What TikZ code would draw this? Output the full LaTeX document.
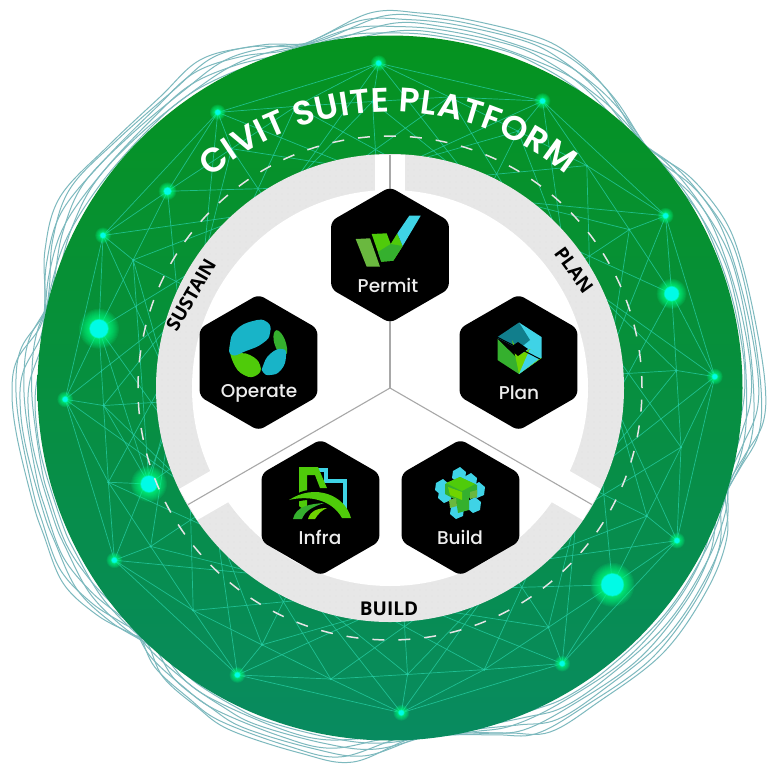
\documentclass[tikz,border=0pt]{standalone}
\usepackage{fontspec}
\setmainfont{Open Sans}
\newfontfamily\medf{Poppins Medium}
\newfontfamily\titlef{Poppins SemiBold}
\usetikzlibrary{shapes.geometric,decorations.text,patterns.meta,calc}
\definecolor{discTop}{HTML}{05931F}
\definecolor{discMid}{HTML}{069438}
\definecolor{discBot}{HTML}{088B60}
\definecolor{meshc}{HTML}{25CCA2}
\definecolor{blobc}{HTML}{7DB9BE}
\definecolor{ringg}{HTML}{E7E7E7}
\definecolor{sepg}{HTML}{A8A8A8}
\definecolor{glowg}{HTML}{00FF80}
\definecolor{corec}{HTML}{00FBE6}
\definecolor{icyan}{HTML}{3FD3E6}
\definecolor{idcyan}{HTML}{18B4C8}
\definecolor{igreen}{HTML}{4FCB0A}
\definecolor{ilime}{HTML}{6FD400}
\definecolor{imid}{HTML}{35B02E}
\definecolor{ipale}{HTML}{6AB83F}
\tikzset{
  mesh/.style={draw=meshc,line width=.7pt,opacity=.8},
  blobline/.style={draw=blobc,line width=1pt},
  hexa/.style={regular polygon,regular polygon sides=6,shape border rotate=30,minimum size=136pt,inner sep=0pt,fill=black,rounded corners=6pt},
  hexlabel/.style={text=white!93!black,font=\fontsize{18.5}{20}\selectfont\medf,inner sep=0pt},
  ringlabel/.style={text=black,font=\fontsize{19}{20}\selectfont\bfseries,inner sep=0pt},
  sepline/.style={draw=sepg,line width=1.1pt},
}
\newcommand{\glowat}[3]{% name, core radius, glow radius
  \foreach \gi in {1,...,16}{
    \pgfmathsetmacro\gfrac{(\gi/16)^1.6}
    \fill[glowg,opacity=.11] (#1) circle[radius={#2pt+(#3pt-#2pt)*\gfrac}];
  }
  \fill[corec,opacity=.5] (#1) circle[radius=#2pt+.8pt];
  \fill[corec] (#1) circle[radius=#2pt];
}
\begin{document}
\begin{tikzpicture}[x=1pt,y=-1pt]
\useasboundingbox (0,0) rectangle (769,764);
\fill[white] (0,0) rectangle (769,764);
\coordinate (c) at (390,388);
% wavy outlines: one lobed outline, its lobes shrunk towards the disc and turned a little
\foreach \amp/\rr in {1/0,.87/2,.74/-1.8,.61/3.6,.48/-3.4,.35/5,.25/-4.8}{
  \gdef\blobpts{}
  \foreach \px/\py in {
   -87/-344,-20/-375,30/-375,80/-368,150/-350,187/-328,217/-298,245/-255,
   263/-236,300/-211,333/-171,350/-131,365/-68,375/-5,373/35,355/67,340/92,
   335/105,337/149,317/202,273/265,207/315,160/344,120/345,77/345,23/350,
   -37/374,-90/365,-160/342,-193/319,-227/289,-243/255,-260/245,-293/227,
   -327/195,-347/145,-357/115,-373/49,-378/5,-373/-28,-350/-61,-345/-88,
   -345/-138,-330/-191,-283/-241,-230/-291,-190/-328,-140/-341}{
    \pgfmathsetmacro\lenp{veclen(\px,\py)}
    \pgfmathsetmacro\fac{(348+(\lenp-348)*\amp)/\lenp}
    \pgfmathsetmacro\qx{390+\fac*(\px*cos(\rr)-\py*sin(\rr))}
    \pgfmathsetmacro\qy{388+\fac*(\px*sin(\rr)+\py*cos(\rr))}
    \xdef\blobpts{\blobpts(\qx,\qy)}
  }
  \edef\blobdraw{\noexpand\draw[blobline] plot[smooth cycle,tension=.6] coordinates {\blobpts};}
  \blobdraw
}
% disc
\shade[top color=discTop,middle color=discMid,bottom color=discBot] (c) circle[radius=352.5pt];
% mesh coordinates
\foreach \k in {0,...,11}{
  \coordinate (o\k) at ({390+325*cos(92-30*\k)},{388-325*sin(92-30*\k)});
}
\foreach \j in {0,2,...,22}{
  \coordinate (m\j) at ({390+287*cos(3.5-15*\j)},{388-287*sin(3.5-15*\j)});
}
\foreach \j in {1,3,...,23}{
  \coordinate (m\j) at ({390+297*cos(3.5-15*\j)},{388-297*sin(3.5-15*\j)});
}
\foreach \j in {0,...,23}{
  \coordinate (i\j) at ({390+212*cos(3.5-15*\j)},{388-212*sin(3.5-15*\j)});
}
\coordinate (extra) at (149,484);
% mesh edges
\foreach \k in {0,...,11}{
  \pgfmathtruncatemacro\nx{mod(\k+1,12)}
  \pgfmathtruncatemacro\jj{mod(2*\k+18,24)}
  \pgfmathtruncatemacro\jp{mod(\jj+1,24)}
  \pgfmathtruncatemacro\jm{mod(\jj+23,24)}
  \pgfmathtruncatemacro\lp{mod(\jj+2,24)}
  \pgfmathtruncatemacro\lm{mod(\jj+22,24)}
  \draw[mesh] (o\k) -- (o\nx);
  \draw[mesh] (o\k) -- (m\jj);
  \draw[mesh] (o\k) -- (m\jp);
  \draw[mesh] (o\k) -- (m\jm);
  \draw[mesh] (o\k) -- (i\lp);
  \draw[mesh] (o\k) -- (i\lm);
}
\foreach \j in {0,2,...,22}{
  \pgfmathtruncatemacro\a{mod(\j+1,24)}
  \pgfmathtruncatemacro\b{mod(\j+23,24)}
  \pgfmathtruncatemacro\d{mod(\j+3,24)}
  \pgfmathtruncatemacro\e{mod(\j+21,24)}
  \draw[mesh] (m\j) -- (m\a);
  \draw[mesh] (m\j) -- (m\b);
  \draw[mesh] (m\j) -- (i\j);
  \draw[mesh] (m\j) -- (i\d);
  \draw[mesh] (m\j) -- (i\e);
}
\foreach \j in {1,3,...,23}{
  \pgfmathtruncatemacro\d{mod(\j+2,24)}
  \pgfmathtruncatemacro\e{mod(\j+22,24)}
  \draw[mesh] (m\j) -- (i\d);
  \draw[mesh] (m\j) -- (i\e);
}
\draw[mesh] (extra) -- (m13) (extra) -- (m12) (extra) -- (m11) (extra) -- (m14) (extra) -- (i11) (extra) -- (i14);
% mid dots
\foreach \j in {0,...,23}{ \fill[meshc] (m\j) circle[radius=1.2pt]; }
% glows
\foreach \k in {0,...,11}{ \glowat{o\k}{2.5}{8} }
\glowat{m23}{7}{15}
\glowat{m3}{11}{22}
\glowat{m13}{9}{20}
\glowat{m15}{3.5}{9}
\glowat{extra}{8}{18}
% inner disc
\fill[ringg] (c) circle[radius=234pt];
\fill[pattern={Dots[distance=6pt,radius=.45pt]},pattern color=black!16] (c) circle[radius=234pt];
\fill[white] (c) circle[radius=198pt];
% separators
\coordinate (sepT) at (390,155);
\coordinate (sepR) at ({390+233*cos(30)},{388+233*sin(30)});
\coordinate (sepL) at ({390-233*cos(30)},{388+233*sin(30)});
\draw[white,line width=30pt] (c) -- (sepT);
\draw[white,line width=36pt] (c) -- (sepR);
\draw[white,line width=36pt] (c) -- (sepL);
\draw[sepline] (c) -- (sepT);
\draw[sepline] (c) -- (sepR);
\draw[sepline] (c) -- (sepL);
% dashed circle
\draw[white!90!black,line width=1.5pt,dash pattern=on 12pt off 14pt] (c) circle[radius=252pt];
% title
\path[decorate,decoration={text along path,text align=fit to path,
   text={|\fontsize{34}{34}\selectfont\titlef\color{white}|CIVIT SUITE PLATFORM}}]
   ({390+279*cos(130)},{391-279*sin(130)}) arc[start angle=130,end angle=51,radius=279pt];
% ring labels
\node[ringlabel,rotate=60] (lsustain) at (191,295) {SUSTAIN};
\node[ringlabel,rotate=-54] (lplan) at (574,270) {PLAN};
\node[ringlabel] (lbuild) at (389,609) {BUILD};
% hexagons
\node[hexa] (hpermit) at (390,255) {};
\node[hexa] (hoperate) at (258.5,362.5) {};
\node[hexa] (hplan) at (518.5,362.5) {};
\node[hexa] (hinfra) at (320.5,507.5) {};
\node[hexa] (hbuild) at (460.5,507.5) {};
\node[hexlabel] (tpermit) at (388,285) {Permit};
\node[hexlabel] (toperate) at (259,393) {Operate};
\node[hexlabel] (tplan) at (519,393) {Plan};
\node[hexlabel] (tinfra) at (320,537) {Infra};
\node[hexlabel] (tbuild) at (460,537) {Build};
% Permit icon
\fill[ipale] (355.7,239)--(370,238.3)--(380,266.7)--(366.7,266.7)--cycle;
\fill[igreen] (371.7,234)--(386.7,233.3)--(390.7,244)--(397.3,233.3)--(402.7,246)--(393.3,260.7)--(381.3,261.7)--cycle;
\fill[imid] (381.3,261.7)--(378,252)--(390.7,244)--(402.7,246)--(393.3,260.7)--cycle;
\fill[icyan] (397.3,233.3)--(409.3,215.7)--(420.7,215.7)--(402.7,246)--cycle;
% Operate icon
\fill[igreen] plot[smooth cycle,tension=.9] coordinates {(230,345)(236,352)(250,355)(260,365)(257,375)(244,375)(233,362)};
\fill[idcyan] plot[smooth cycle,tension=.9] coordinates {(230,344)(236,330)(253,321)(267,322)(270,333)(263,343)(246,351)(232,355)};
\fill[imid] plot[smooth cycle,tension=.9] coordinates {(274,333)(281,333)(287,348)(284,355)(276,348)};
\fill[idcyan] plot[smooth cycle,tension=.9] coordinates {(263,366)(270,354)(282,349)(286,356)(281,370)(270,375)(263,372)};
% Plan icon
\fill[icyan] (519,322.5)--(541.5,337)--(541.5,358)--(519,374)--(519,340)--cycle;
\fill[idcyan!70!black] (519,322.5)--(497.5,337)--(497.5,338)--(519,349)--(530,340)--cycle;
\fill[imid] (497.5,339)--(497.5,360)--(519,374)--(519,360)--cycle;
\fill[ilime] (512,340)--(519,374)--(541.5,358)--(530,349)--(519,355)--cycle;
\fill[icyan] (530,349)--(541.5,357)--(519,374)--(525,360)--cycle;
\fill[black] (518,342)--(528,349)--(518,356)--(509,348)--cycle;
\draw[black,line width=1pt] (497,337) -- (540,359);
% Infra icon
\draw[icyan,line width=4pt] (318,470)--(326,470)--(326,481)--(345,481)--(345,510);
\fill[igreen] (299,467)--(318,467)--(327,488)--(320,488)--(315,475)--(307,475)--(307,512)--(299,506)--cycle;
\fill[black] (288,500) .. controls (310,480) and (340,490) .. (352,520) -- (340,520) .. controls (330,500) and (310,495) .. (288,505) -- cycle;
\fill[igreen] (289,500) .. controls (315,483) and (345,495) .. (351,518) -- (342,518) .. controls (332,500) and (310,495) .. (289,500) -- cycle;
\fill[imid] (293,519) .. controls (296,506) and (310,504) .. (324,503) .. controls (312,507) and (305,511) .. (302,519) -- cycle;
\fill[ilime] (308,519) .. controls (310,511) and (318,508) .. (327,508) .. controls (322,510) and (318,514) .. (315,519) -- cycle;
% Build icon
\foreach \bx/\by in {459/475,445/495,478/490,457/511,474/505,470/481,442/487}{
  \fill[icyan] (\bx-6,\by-4)--(\bx+1,\by-8)--(\bx+7,\by-3)--(\bx+6,\by+5)--(\bx-1,\by+8)--(\bx-7,\by+3)--cycle;
}
\fill[imid] (445,484)--(460,477)--(477,485)--(477,494)--(469,498)--(469,510)--(458,513)--(456,500)--(445,494)--cycle;
\fill[igreen] (446,483)--(460,477)--(475,484)--(462,491)--cycle;
\fill[ilime] (448,487)--(462,492)--(462,500)--(450,495)--cycle;
\fill[ipale] (449,500)--(456,498)--(457,506)--(450,508)--cycle;
\fill[ipale] (470,492)--(477,490)--(477,497)--(470,499)--cycle;
\end{tikzpicture}
\end{document}
